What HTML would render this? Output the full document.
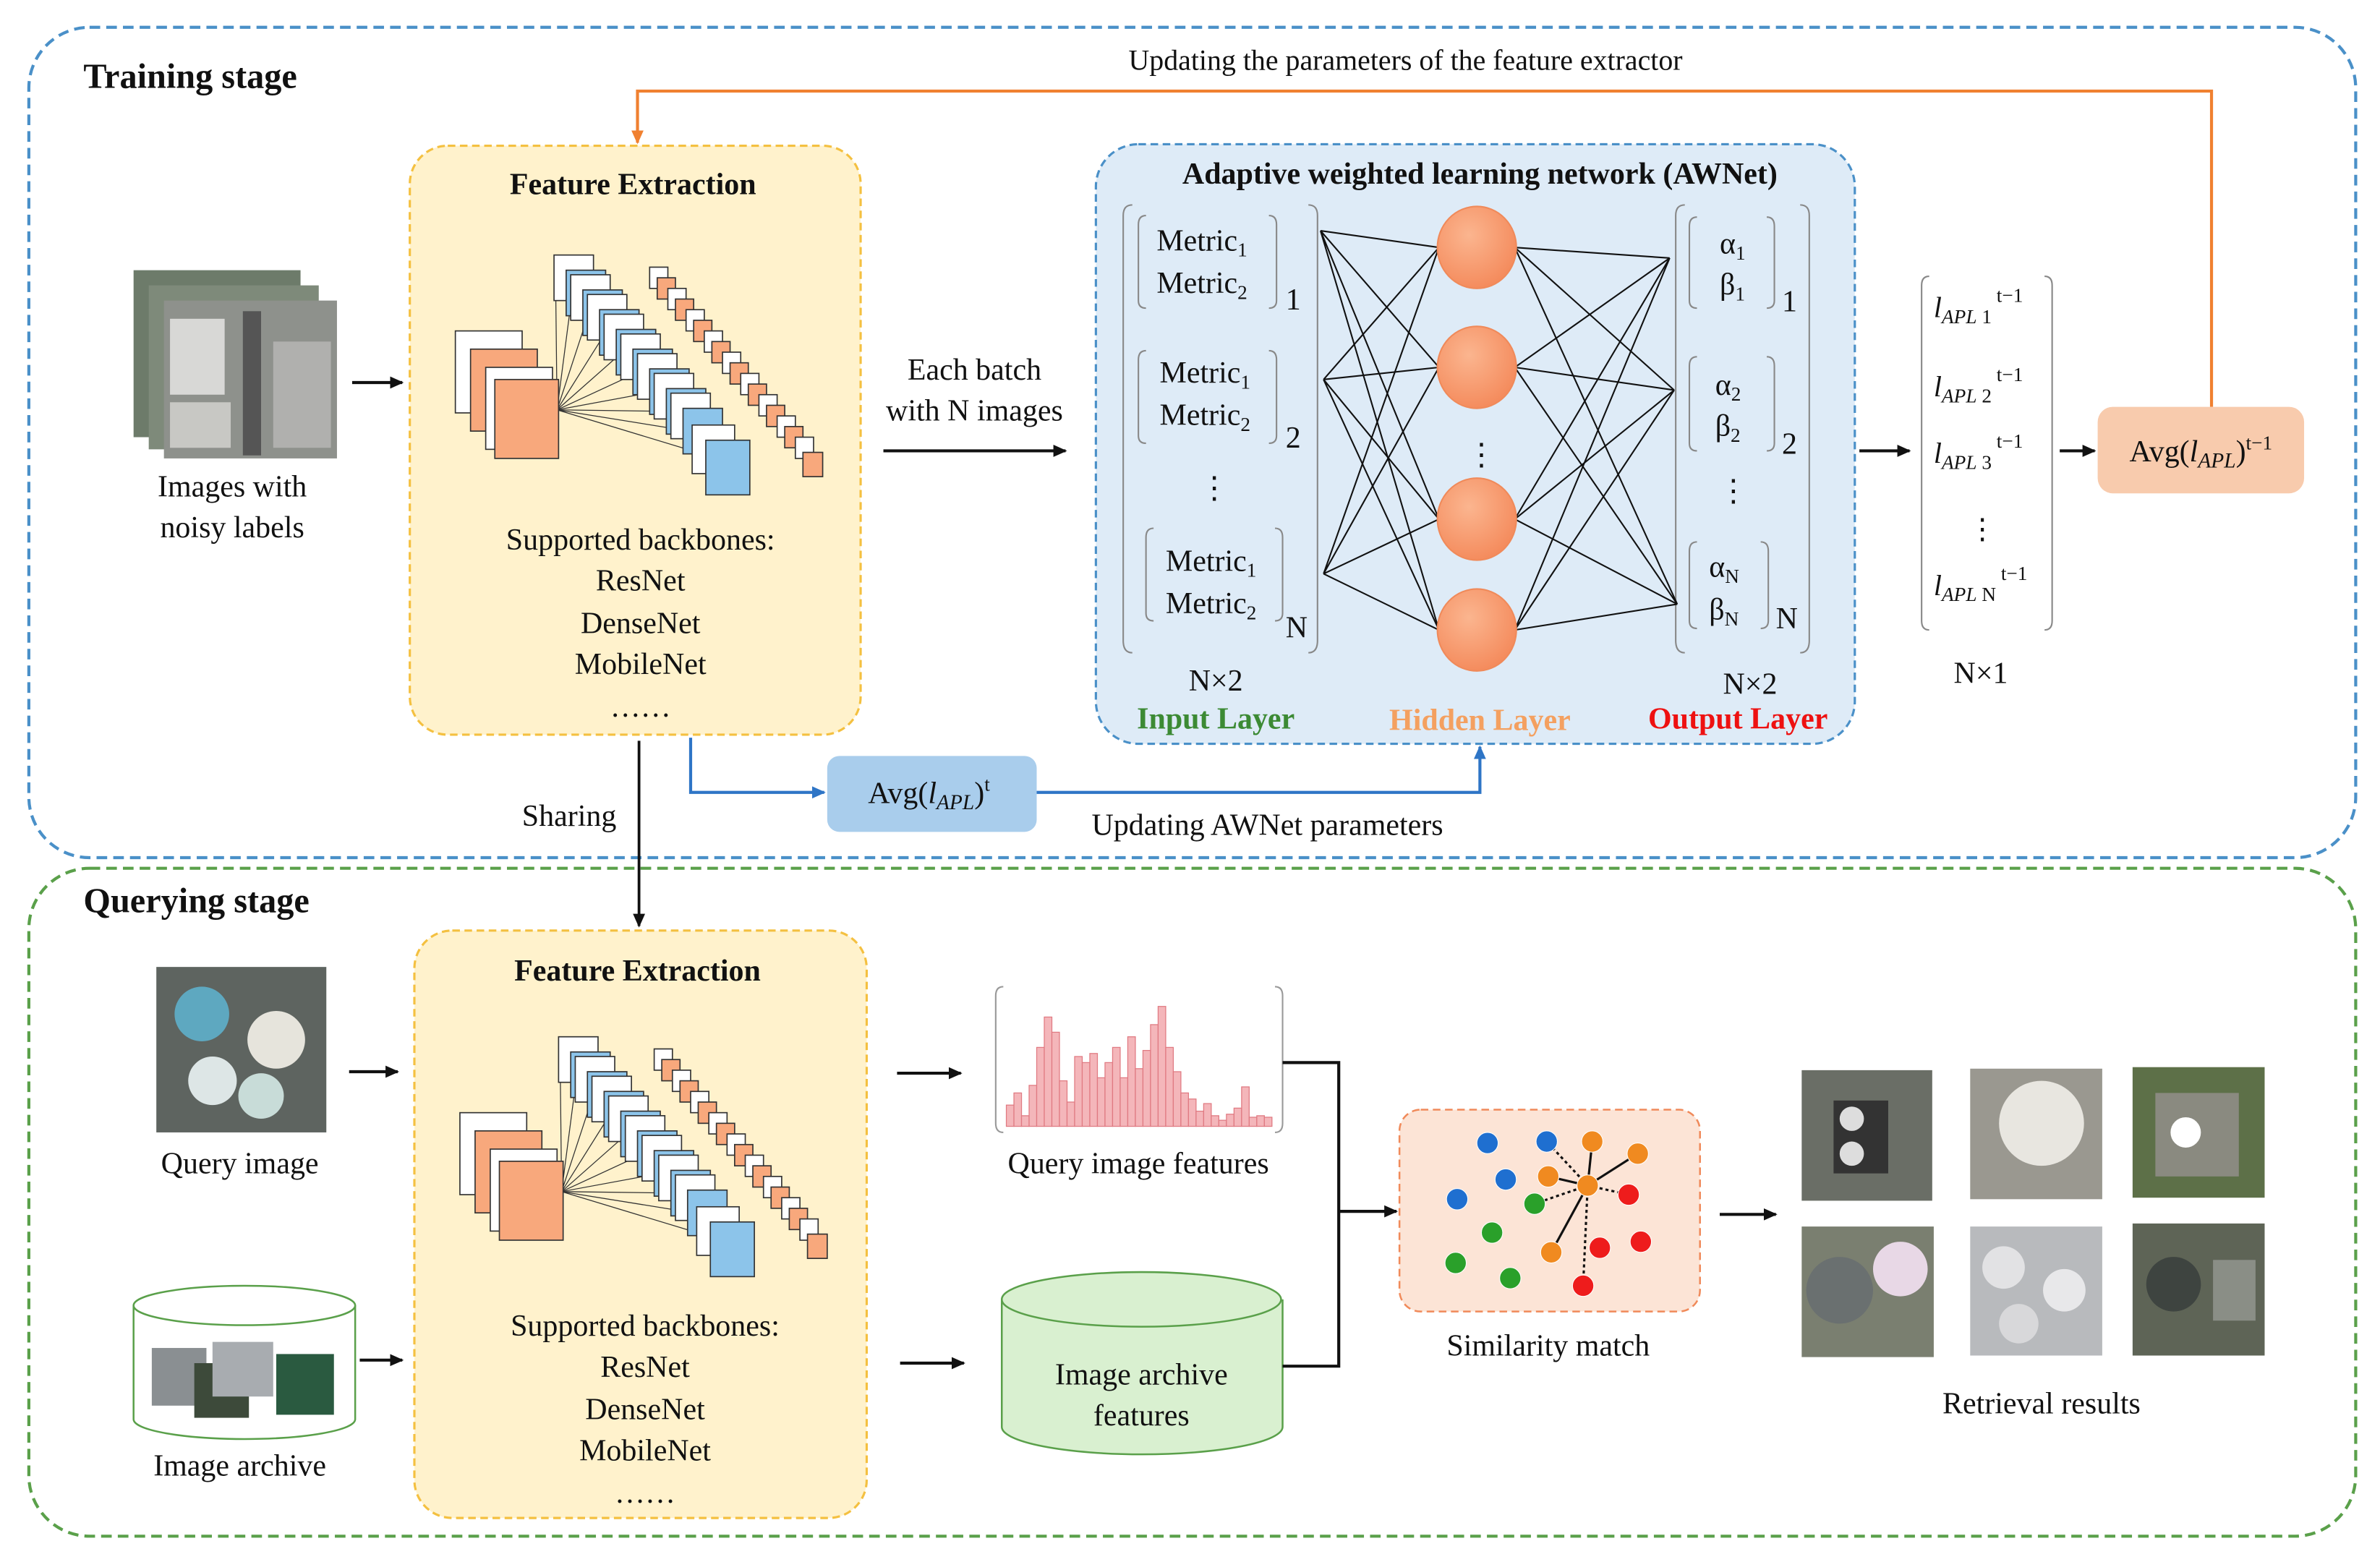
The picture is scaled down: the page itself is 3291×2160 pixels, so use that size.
<!DOCTYPE html>
<html><head><meta charset="utf-8"><style>
html,body{margin:0;padding:0;background:#fff}
svg{display:block}
text{font-family:"Liberation Serif",serif;fill:#111}
.b{font-weight:bold}
</style></head><body>
<svg width="3291" height="2160" viewBox="0 0 1568 1029" preserveAspectRatio="none" xmlns="http://www.w3.org/2000/svg">
<defs>
<marker id="ak" markerWidth="10" markerHeight="10" refX="8" refY="5" orient="auto" markerUnits="userSpaceOnUse"><path d="M0,1 L9,5 L0,9 z" fill="#111"/></marker>
<marker id="ab" markerWidth="10" markerHeight="10" refX="8" refY="5" orient="auto" markerUnits="userSpaceOnUse"><path d="M0,1 L9,5 L0,9 z" fill="#2e75c6"/></marker>
<marker id="ao" markerWidth="10" markerHeight="10" refX="8" refY="5" orient="auto" markerUnits="userSpaceOnUse"><path d="M0,1 L9,5 L0,9 z" fill="#f08030"/></marker>
<radialGradient id="hg" cx="40%" cy="35%" r="70%"><stop offset="0" stop-color="#fbb58f"/><stop offset="1" stop-color="#f4895a"/></radialGradient>
<g id="net">
  <g stroke="#333" stroke-width="0.6">
    <line x1="367" y1="270" x2="366" y2="180"/><line x1="367" y1="270" x2="377" y2="193"/><line x1="367" y1="270" x2="388" y2="206"/><line x1="367" y1="270" x2="399" y2="219"/><line x1="367" y1="270" x2="410" y2="232"/><line x1="367" y1="270" x2="421" y2="245"/><line x1="367" y1="270" x2="432" y2="258"/><line x1="367" y1="270" x2="443" y2="271"/><line x1="367" y1="270" x2="454" y2="284"/><line x1="367" y1="270" x2="466" y2="300"/>
  </g>
  <rect x="300" y="218" width="44" height="54" fill="#fff" stroke="#333" stroke-width="0.8"/>
  <rect x="310" y="230" width="44" height="54" fill="#f8a87c" stroke="#333" stroke-width="0.8"/>
  <rect x="320" y="242" width="44" height="54" fill="#fff" stroke="#333" stroke-width="0.8"/>
  <rect x="326" y="250" width="42" height="52" fill="#f8a87c" stroke="#333" stroke-width="0.8"/>
  <g stroke="#333" stroke-width="0.8">
    <rect x="365" y="168" width="26" height="30" fill="#fff"/><rect x="373" y="178" width="26" height="30" fill="#8cc4ea"/>
    <rect x="376" y="181" width="26" height="30" fill="#fff"/><rect x="384" y="191" width="26" height="30" fill="#8cc4ea"/>
    <rect x="387" y="194" width="26" height="30" fill="#fff"/><rect x="395" y="204" width="26" height="30" fill="#8cc4ea"/>
    <rect x="398" y="207" width="26" height="30" fill="#fff"/><rect x="406" y="217" width="26" height="30" fill="#8cc4ea"/>
    <rect x="409" y="220" width="26" height="30" fill="#fff"/><rect x="417" y="230" width="26" height="30" fill="#8cc4ea"/>
    <rect x="420" y="233" width="26" height="30" fill="#fff"/><rect x="428" y="243" width="26" height="30" fill="#8cc4ea"/>
    <rect x="431" y="246" width="26" height="30" fill="#fff"/><rect x="439" y="256" width="26" height="30" fill="#8cc4ea"/>
    <rect x="442" y="259" width="26" height="30" fill="#fff"/><rect x="450" y="269" width="26" height="30" fill="#8cc4ea"/>
    <rect x="456" y="280" width="28" height="32" fill="#fff"/><rect x="465" y="290" width="29" height="36" fill="#8cc4ea"/>
    <rect x="428" y="176" width="12" height="14" fill="#fff"/><rect x="433" y="183" width="12" height="14" fill="#f8a87c"/>
    <rect x="440" y="190" width="12" height="14" fill="#fff"/><rect x="445" y="197" width="12" height="14" fill="#f8a87c"/>
    <rect x="452" y="204" width="12" height="14" fill="#fff"/><rect x="457" y="211" width="12" height="14" fill="#f8a87c"/>
    <rect x="464" y="218" width="12" height="14" fill="#fff"/><rect x="469" y="225" width="12" height="14" fill="#f8a87c"/>
    <rect x="476" y="232" width="12" height="14" fill="#fff"/><rect x="481" y="239" width="12" height="14" fill="#f8a87c"/>
    <rect x="488" y="246" width="12" height="14" fill="#fff"/><rect x="493" y="253" width="12" height="14" fill="#f8a87c"/>
    <rect x="500" y="260" width="12" height="14" fill="#fff"/><rect x="505" y="267" width="12" height="14" fill="#f8a87c"/>
    <rect x="512" y="274" width="12" height="14" fill="#fff"/><rect x="517" y="281" width="12" height="14" fill="#f8a87c"/>
    <rect x="524" y="288" width="12" height="14" fill="#fff"/><rect x="529" y="298" width="13" height="16" fill="#f8a87c"/>
  </g>
</g>
</defs>

<!-- stage boxes -->
<rect x="19" y="18" width="1533" height="547" rx="40" fill="none" stroke="#4a90c8" stroke-width="2" stroke-dasharray="7,4"/>
<rect x="19" y="572" width="1533" height="440" rx="40" fill="none" stroke="#5aa04a" stroke-width="2" stroke-dasharray="7,4"/>
<text x="55" y="58" font-size="23" class="b">Training stage</text>
<text x="55" y="601" font-size="23" class="b">Querying stage</text>

<!-- orange feedback -->
<polyline points="1457,268 1457,60 420,60 420,94" fill="none" stroke="#f08030" stroke-width="2" marker-end="url(#ao)"/>
<text x="926" y="46" font-size="19" text-anchor="middle">Updating  the parameters of the feature extractor</text>

<!-- training feature extraction -->
<rect x="270" y="96" width="297" height="388" rx="25" fill="#fff2cc" stroke="#f4c040" stroke-width="1.5" stroke-dasharray="5,3"/>
<text x="417" y="128" font-size="20" class="b" text-anchor="middle">Feature Extraction</text>
<use href="#net"/>
<g font-size="20" text-anchor="middle">
<text x="422" y="362">Supported backbones:</text><text x="422" y="389">ResNet</text><text x="422" y="417">DenseNet</text><text x="422" y="444">MobileNet</text><text x="422" y="472">……</text>
</g>

<!-- noisy images -->
<rect x="88" y="178" width="110" height="110" fill="#6d7b6a"/>
<rect x="98" y="188" width="112" height="108" fill="#7e8a7a"/>
<rect x="108" y="198" width="114" height="104" fill="#8e918c"/>
<rect x="112" y="210" width="36" height="50" fill="#d8d8d6"/><rect x="160" y="205" width="12" height="95" fill="#555"/><rect x="180" y="225" width="38" height="70" fill="#b0b0ae"/><rect x="112" y="265" width="40" height="30" fill="#c8c8c4"/>
<text x="153" y="327" font-size="20" text-anchor="middle">Images with</text>
<text x="153" y="354" font-size="20" text-anchor="middle">noisy labels</text>
<line x1="232" y1="252" x2="265" y2="252" stroke="#111" stroke-width="2" marker-end="url(#ak)"/>

<text x="642" y="250" font-size="20" text-anchor="middle">Each batch</text>
<text x="642" y="277" font-size="20" text-anchor="middle">with N images</text>
<line x1="582" y1="297" x2="702" y2="297" stroke="#111" stroke-width="2" marker-end="url(#ak)"/>

<!-- AWNet -->
<rect x="722" y="95" width="500" height="395" rx="28" fill="#deebf7" stroke="#4a90c8" stroke-width="1.5" stroke-dasharray="5,3"/>
<text x="975" y="121" font-size="20" class="b" text-anchor="middle">Adaptive  weighted learning  network (AWNet)</text>
<g fill="none" stroke="#888" stroke-width="1">
<path d="M746,135 Q740,135 740,142 L740,422 Q740,430 746,430"/><path d="M862,135 Q868,135 868,142 L868,422 Q868,430 862,430"/>
<path d="M755,142 Q750,142 750,148 L750,198 Q750,203 755,203"/><path d="M836,142 Q841,142 841,148 L841,198 Q841,203 836,203"/>
<path d="M755,231 Q750,231 750,237 L750,287 Q750,292 755,292"/><path d="M836,231 Q841,231 841,237 L841,287 Q841,292 836,292"/>
<path d="M760,348 Q755,348 755,354 L755,404 Q755,409 760,409"/><path d="M840,348 Q845,348 845,354 L845,404 Q845,409 840,409"/>
<path d="M1110,135 Q1104,135 1104,142 L1104,422 Q1104,430 1110,430"/><path d="M1186,135 Q1192,135 1192,142 L1192,422 Q1192,430 1186,430"/>
<path d="M1118,143 Q1113,143 1113,149 L1113,198 Q1113,203 1118,203"/><path d="M1164,143 Q1169,143 1169,149 L1169,198 Q1169,203 1164,203"/>
<path d="M1118,235 Q1113,235 1113,241 L1113,292 Q1113,297 1118,297"/><path d="M1164,235 Q1169,235 1169,241 L1169,292 Q1169,297 1164,297"/>
<path d="M1118,357 Q1113,357 1113,363 L1113,409 Q1113,414 1118,414"/><path d="M1160,357 Q1165,357 1165,363 L1165,409 Q1165,414 1160,414"/>
</g>
<g font-size="20">
<text x="762" y="165">Metric<tspan font-size="13" dy="4">1</tspan></text><text x="762" y="193">Metric<tspan font-size="13" dy="4">2</tspan></text><text x="847" y="204">1</text>
<text x="764" y="252">Metric<tspan font-size="13" dy="4">1</tspan></text><text x="764" y="280">Metric<tspan font-size="13" dy="4">2</tspan></text><text x="847" y="295">2</text>
<text x="768" y="376">Metric<tspan font-size="13" dy="4">1</tspan></text><text x="768" y="404">Metric<tspan font-size="13" dy="4">2</tspan></text><text x="847" y="420">N</text>
<text x="800" y="328" text-anchor="middle">⋮</text>
<text x="1133" y="167">α<tspan font-size="13" dy="4">1</tspan></text><text x="1133" y="194">β<tspan font-size="13" dy="4">1</tspan></text><text x="1174" y="205">1</text>
<text x="1130" y="260">α<tspan font-size="13" dy="4">2</tspan></text><text x="1130" y="287">β<tspan font-size="13" dy="4">2</tspan></text><text x="1174" y="299">2</text>
<text x="1126" y="380">α<tspan font-size="13" dy="4">N</tspan></text><text x="1126" y="408">β<tspan font-size="13" dy="4">N</tspan></text><text x="1170" y="414">N</text>
<text x="1142" y="330" text-anchor="middle">⋮</text>
<text x="976" y="306" text-anchor="middle">⋮</text>
</g>
<g stroke="#111" stroke-width="1">
<path d="M870,152 L948,163 M870,152 L948,242 M870,152 L948,342 M870,152 L948,415"/>
<path d="M872,250 L948,163 M872,250 L948,242 M872,250 L948,342 M872,250 L948,415"/>
<path d="M872,378 L948,163 M872,378 L948,242 M872,378 L948,342 M872,378 L948,415"/>
<path d="M998,163 L1100,170 M998,163 L1103,257 M998,163 L1105,398"/>
<path d="M998,242 L1100,170 M998,242 L1103,257 M998,242 L1105,398"/>
<path d="M998,342 L1100,170 M998,342 L1103,257 M998,342 L1105,398"/>
<path d="M998,415 L1100,170 M998,415 L1103,257 M998,415 L1105,398"/>
</g>
<g fill="url(#hg)" stroke="#f08a5a" stroke-width="1">
<ellipse cx="973" cy="163" rx="26" ry="27"/><ellipse cx="973" cy="242" rx="26" ry="27"/><ellipse cx="973" cy="342" rx="26" ry="27"/><ellipse cx="973" cy="415" rx="26" ry="27"/>
</g>
<text x="801" y="455" font-size="20" text-anchor="middle">N×2</text>
<text x="1153" y="457" font-size="20" text-anchor="middle">N×2</text>
<text x="801" y="480" font-size="20" class="b" text-anchor="middle" style="fill:#3c8a34">Input Layer</text>
<text x="975" y="481" font-size="20" class="b" text-anchor="middle" style="fill:#f4a060">Hidden Layer</text>
<text x="1145" y="480" font-size="20" class="b" text-anchor="middle" style="fill:#ee1111">Output Layer</text>

<!-- output vector -->
<line x1="1225" y1="297" x2="1258" y2="297" stroke="#111" stroke-width="2" marker-end="url(#ak)"/>
<g fill="none" stroke="#888" stroke-width="1">
<path d="M1271,182 Q1266,182 1266,188 L1266,409 Q1266,415 1271,415"/><path d="M1347,182 Q1352,182 1352,188 L1352,409 Q1352,415 1347,415"/>
</g>
<g font-size="19">
<text x="1274" y="209"><tspan font-style="italic">l</tspan><tspan font-size="13" font-style="italic" dy="4">APL</tspan><tspan font-size="13" dy="0"> 1</tspan><tspan font-size="13" dy="-14"> t−1</tspan></text>
<text x="1274" y="261"><tspan font-style="italic">l</tspan><tspan font-size="13" font-style="italic" dy="4">APL</tspan><tspan font-size="13"> 2</tspan><tspan font-size="13" dy="-14"> t−1</tspan></text>
<text x="1274" y="305"><tspan font-style="italic">l</tspan><tspan font-size="13" font-style="italic" dy="4">APL</tspan><tspan font-size="13"> 3</tspan><tspan font-size="13" dy="-14"> t−1</tspan></text>
<text x="1306" y="355" text-anchor="middle">⋮</text>
<text x="1274" y="392"><tspan font-style="italic">l</tspan><tspan font-size="13" font-style="italic" dy="4">APL</tspan><tspan font-size="13"> N</tspan><tspan font-size="13" dy="-14"> t−1</tspan></text>
</g>
<text x="1305" y="450" font-size="20" text-anchor="middle">N×1</text>
<line x1="1357" y1="297" x2="1380" y2="297" stroke="#111" stroke-width="2" marker-end="url(#ak)"/>
<rect x="1382" y="268" width="136" height="57" rx="10" fill="#f8cbad"/>
<text x="1450" y="304" font-size="20" text-anchor="middle">Avg(<tspan font-style="italic">l</tspan><tspan font-size="14" font-style="italic" dy="4">APL</tspan><tspan dy="-4">)</tspan><tspan font-size="13" dy="-8">t−1</tspan></text>

<!-- blue loop -->
<polyline points="455,486 455,522 543,522" fill="none" stroke="#2e75c6" stroke-width="2" marker-end="url(#ab)"/>
<rect x="545" y="498" width="138" height="50" rx="8" fill="#a9cdec"/>
<text x="612" y="529" font-size="20" text-anchor="middle">Avg(<tspan font-style="italic">l</tspan><tspan font-size="14" font-style="italic" dy="4">APL</tspan><tspan dy="-4">)</tspan><tspan font-size="13" dy="-8">t</tspan></text>
<polyline points="683,522 975,522 975,492" fill="none" stroke="#2e75c6" stroke-width="2" marker-end="url(#ab)"/>
<text x="835" y="550" font-size="20" text-anchor="middle">Updating AWNet parameters</text>
<text x="375" y="544" font-size="20" text-anchor="middle">Sharing</text>
<line x1="421" y1="488" x2="421" y2="610" stroke="#111" stroke-width="1.8" marker-end="url(#ak)"/>

<!-- query feature extraction -->
<rect x="273" y="613" width="298" height="387" rx="25" fill="#fff2cc" stroke="#f4c040" stroke-width="1.5" stroke-dasharray="5,3"/>
<text x="420" y="646" font-size="20" class="b" text-anchor="middle">Feature Extraction</text>
<use href="#net" transform="translate(3,515)"/>
<g font-size="20" text-anchor="middle">
<text x="425" y="880">Supported backbones:</text><text x="425" y="907">ResNet</text><text x="425" y="935">DenseNet</text><text x="425" y="962">MobileNet</text><text x="425" y="990">……</text>
</g>

<!-- query image -->
<rect x="103" y="637" width="112" height="109" fill="#5e6460"/>
<circle cx="133" cy="668" r="18" fill="#5ea8c0"/><circle cx="182" cy="685" r="19" fill="#e6e4dc"/><circle cx="140" cy="712" r="16" fill="#dde6e6"/><circle cx="172" cy="722" r="15" fill="#c8dcd8"/>
<text x="158" y="773" font-size="20" text-anchor="middle">Query image</text>
<line x1="230" y1="706" x2="262" y2="706" stroke="#111" stroke-width="2" marker-end="url(#ak)"/>

<!-- archive cylinder -->
<path d="M88,860 L88,935 A73,13 0 0 0 234,935 L234,860" fill="#fff" stroke="#5aa04a" stroke-width="1.2"/>
<ellipse cx="161" cy="860" rx="73" ry="13" fill="#fff" stroke="#5aa04a" stroke-width="1.2"/>
<rect x="100" y="888" width="36" height="38" fill="#8a8f92"/><rect x="128" y="898" width="36" height="36" fill="#3d4a3a"/><rect x="140" y="884" width="40" height="36" fill="#a8acb0"/><rect x="182" y="892" width="38" height="40" fill="#2a5a40"/>
<text x="158" y="972" font-size="20" text-anchor="middle">Image archive</text>
<line x1="237" y1="896" x2="265" y2="896" stroke="#111" stroke-width="2" marker-end="url(#ak)"/>

<!-- histogram -->
<line x1="591" y1="707" x2="633" y2="707" stroke="#111" stroke-width="2" marker-end="url(#ak)"/>
<g fill="none" stroke="#999" stroke-width="1">
<path d="M661,650 Q656,650 656,656 L656,740 Q656,746 661,746"/><path d="M840,650 Q845,650 845,656 L845,740 Q845,746 840,746"/>
</g>
<g fill="#f4b6ba" stroke="#e07a82" stroke-width="0.6">
<rect x="663" y="728" width="5" height="14"/><rect x="668" y="720" width="5" height="22"/><rect x="673" y="735" width="5" height="7"/><rect x="678" y="715" width="5" height="27"/><rect x="683" y="690" width="5" height="52"/><rect x="688" y="670" width="5" height="72"/><rect x="693" y="680" width="5" height="62"/><rect x="698" y="712" width="5" height="30"/><rect x="703" y="726" width="5" height="16"/><rect x="708" y="696" width="5" height="46"/><rect x="713" y="700" width="5" height="42"/><rect x="718" y="694" width="5" height="48"/><rect x="723" y="710" width="5" height="32"/><rect x="728" y="700" width="5" height="42"/><rect x="733" y="690" width="5" height="52"/><rect x="738" y="710" width="5" height="32"/><rect x="743" y="683" width="5" height="59"/><rect x="748" y="704" width="5" height="38"/><rect x="753" y="692" width="5" height="50"/><rect x="758" y="675" width="5" height="67"/><rect x="763" y="663" width="5" height="79"/><rect x="768" y="690" width="5" height="52"/><rect x="773" y="706" width="5" height="36"/><rect x="778" y="720" width="5" height="22"/><rect x="783" y="724" width="5" height="18"/><rect x="788" y="732" width="5" height="10"/><rect x="793" y="727" width="5" height="15"/><rect x="798" y="735" width="5" height="7"/><rect x="803" y="738" width="5" height="4"/><rect x="808" y="734" width="5" height="8"/><rect x="813" y="730" width="5" height="12"/><rect x="818" y="716" width="5" height="26"/><rect x="823" y="736" width="5" height="6"/><rect x="828" y="735" width="5" height="7"/><rect x="833" y="736" width="5" height="6"/>
</g>
<text x="750" y="773" font-size="20" text-anchor="middle">Query image features</text>

<!-- features cylinder -->
<line x1="593" y1="898" x2="635" y2="898" stroke="#111" stroke-width="2" marker-end="url(#ak)"/>
<path d="M660,856 L660,940 A92,18 0 0 0 845,940 L845,856" fill="#d9f0d0" stroke="#5aa04a" stroke-width="1.2"/>
<ellipse cx="752" cy="856" rx="92" ry="18" fill="#d9f0d0" stroke="#5aa04a" stroke-width="1.2"/>
<text x="752" y="912" font-size="20" text-anchor="middle">Image archive</text>
<text x="752" y="939" font-size="20" text-anchor="middle">features</text>

<polyline points="845,700 882,700 882,900 845,900" fill="none" stroke="#111" stroke-width="2"/>
<line x1="882" y1="798" x2="920" y2="798" stroke="#111" stroke-width="2" marker-end="url(#ak)"/>

<!-- similarity -->
<rect x="922" y="731" width="198" height="133" rx="14" fill="#fce4d6" stroke="#f08a5a" stroke-width="1.2" stroke-dasharray="5,3"/>
<g stroke="#111" stroke-width="1.5">
<line x1="1046" y1="781" x2="1049" y2="752"/><line x1="1046" y1="781" x2="1079" y2="760"/><line x1="1046" y1="781" x2="1020" y2="775"/><line x1="1046" y1="781" x2="1022" y2="825"/>
</g>
<g stroke="#111" stroke-width="1.5" stroke-dasharray="2,2">
<line x1="1046" y1="781" x2="1019" y2="752"/><line x1="1046" y1="781" x2="1011" y2="793"/><line x1="1046" y1="781" x2="1073" y2="787"/><line x1="1046" y1="781" x2="1043" y2="847"/>
</g>
<g stroke="#fff" stroke-width="0.5">
<circle cx="980" cy="753" r="7" fill="#1f6fd0"/><circle cx="1019" cy="752" r="7" fill="#1f6fd0"/><circle cx="992" cy="777" r="7" fill="#1f6fd0"/><circle cx="960" cy="790" r="7" fill="#1f6fd0"/>
<circle cx="1049" cy="752" r="7" fill="#f08a20"/><circle cx="1079" cy="760" r="7" fill="#f08a20"/><circle cx="1020" cy="775" r="7" fill="#f08a20"/><circle cx="1022" cy="825" r="7" fill="#f08a20"/><circle cx="1046" cy="781" r="7" fill="#f08a20"/>
<circle cx="1011" cy="793" r="7" fill="#2aa02a"/><circle cx="983" cy="812" r="7" fill="#2aa02a"/><circle cx="959" cy="832" r="7" fill="#2aa02a"/><circle cx="995" cy="842" r="7" fill="#2aa02a"/>
<circle cx="1073" cy="787" r="7" fill="#ee1c1c"/><circle cx="1081" cy="818" r="7" fill="#ee1c1c"/><circle cx="1054" cy="822" r="7" fill="#ee1c1c"/><circle cx="1043" cy="847" r="7" fill="#ee1c1c"/>
</g>
<text x="1020" y="893" font-size="20" text-anchor="middle">Similarity match</text>
<line x1="1133" y1="800" x2="1170" y2="800" stroke="#111" stroke-width="2" marker-end="url(#ak)"/>

<!-- retrieval -->
<rect x="1187" y="705" width="86" height="86" fill="#6a6e66"/><rect x="1208" y="725" width="36" height="48" fill="#333"/><circle cx="1220" cy="737" r="8" fill="#ddd"/><circle cx="1220" cy="760" r="8" fill="#ddd"/>
<rect x="1298" y="704" width="87" height="86" fill="#9a9890"/><circle cx="1345" cy="740" r="28" fill="#e8e6e0"/>
<rect x="1405" y="703" width="87" height="86" fill="#5d7048"/><rect x="1420" y="720" width="55" height="55" fill="#8a8a80"/><circle cx="1440" cy="746" r="10" fill="#fff"/>
<rect x="1187" y="808" width="87" height="86" fill="#7a7f70"/><circle cx="1212" cy="850" r="22" fill="#6a7070"/><circle cx="1252" cy="836" r="18" fill="#e8d8e6"/>
<rect x="1298" y="808" width="87" height="85" fill="#b8babd"/><circle cx="1320" cy="835" r="14" fill="#e2e2e4"/><circle cx="1360" cy="850" r="14" fill="#e8e8ea"/><circle cx="1330" cy="872" r="13" fill="#d8d8da"/>
<rect x="1405" y="806" width="87" height="87" fill="#5e6456"/><circle cx="1432" cy="846" r="18" fill="#3e4440"/><rect x="1458" y="830" width="28" height="40" fill="#8a8e86"/>
<text x="1345" y="931" font-size="20" text-anchor="middle">Retrieval results</text>
</svg>
</body></html>
